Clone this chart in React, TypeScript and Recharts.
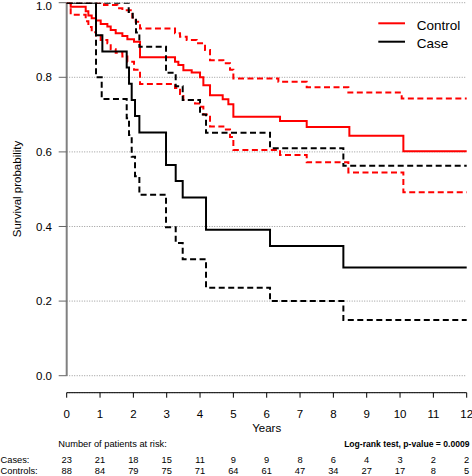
import { CartesianGrid, Line, LineChart, ReferenceLine, XAxis, YAxis } from 'recharts'

const FONT = '"Liberation Sans", Arial, Helvetica, sans-serif'
const RED = '#ff0000'

// [years, survival] steps
const controlSurv = [
  [0, 1], [0.12, 0.989], [0.57, 0.977], [0.65, 0.966], [0.75, 0.958], [0.88, 0.952],
  [1.02, 0.943], [1.22, 0.936], [1.32, 0.927], [1.47, 0.918], [1.67, 0.911], [1.82, 0.902],
  [2.02, 0.895], [2.2, 0.854], [3.25, 0.842], [3.35, 0.833], [3.5, 0.819], [3.75, 0.813],
  [4.0, 0.8], [4.1, 0.779], [4.3, 0.752], [4.68, 0.741], [4.85, 0.728], [5.0, 0.694],
  [6.4, 0.683], [7.2, 0.667], [8.48, 0.643], [10.1, 0.602], [12, 0.602],
]
const controlUpper = [
  [0, 1], [1.12, 0.994], [1.52, 0.985], [1.67, 0.98], [1.97, 0.96], [2.07, 0.949],
  [2.2, 0.931], [3.25, 0.918], [3.4, 0.909], [3.6, 0.9], [3.9, 0.891], [4.15, 0.873],
  [4.3, 0.846], [4.7, 0.838], [4.9, 0.82], [5.0, 0.797], [6.35, 0.788], [7.2, 0.773],
  [8.45, 0.759], [10.05, 0.743], [12, 0.743],
]
const controlLower = [
  [0, 1], [0.12, 0.968], [0.57, 0.95], [0.65, 0.935], [0.75, 0.921], [0.88, 0.912],
  [1.02, 0.9], [1.22, 0.891], [1.32, 0.875], [1.47, 0.866], [1.67, 0.856], [1.82, 0.842],
  [2.02, 0.82], [2.2, 0.782], [3.25, 0.771], [3.4, 0.755], [3.5, 0.739], [3.85, 0.73],
  [4.0, 0.721], [4.1, 0.7], [4.3, 0.668], [4.7, 0.66], [4.9, 0.64], [5.0, 0.605],
  [6.4, 0.592], [7.2, 0.572], [8.45, 0.545], [10.1, 0.492], [12, 0.492],
]
const caseSurv = [
  [0, 1], [0.88, 0.913], [1.07, 0.869], [1.8, 0.826], [1.87, 0.783], [1.95, 0.739],
  [2.05, 0.696], [2.18, 0.652], [2.98, 0.565], [3.27, 0.522], [3.48, 0.478],
  [4.18, 0.391], [6.1, 0.348], [8.3, 0.29], [12, 0.29],
]
const caseUpper = [
  [0, 1], [1.8, 1], [1.86, 0.975], [1.98, 0.96], [2.08, 0.92], [2.18, 0.882],
  [2.98, 0.812], [3.27, 0.776], [3.48, 0.739], [4.0, 0.7], [4.18, 0.651],
  [6.1, 0.61], [8.3, 0.563], [12, 0.563],
]
const caseLower = [
  [0, 1], [0.88, 0.8], [1.05, 0.742], [1.8, 0.69], [1.87, 0.645], [1.95, 0.587],
  [2.05, 0.535], [2.18, 0.485], [2.98, 0.398], [3.27, 0.356], [3.48, 0.312],
  [4.18, 0.236], [6.1, 0.2], [8.3, 0.149], [12, 0.149],
]

const yearTicks = [0, 1, 2, 3, 4, 5, 6, 7, 8, 9, 10, 11, 12]
const casesAtRisk = [23, 21, 18, 15, 11, 9, 9, 8, 6, 4, 3, 2, 2]
const controlsAtRisk = [88, 84, 79, 75, 71, 64, 61, 47, 34, 27, 17, 8, 5]
const probTicks = [0, 0.2, 0.4, 0.6, 0.8, 1]

const toPts = (arr: number[][]) => arr.map(([t, s]) => ({ t, s }))

// year label plus the two at-risk rows, all placed on the x scale
function YearTick(props: any) {
  const { x, y, payload, index } = props
  return (
    <g fontFamily={FONT} fill="#000">
      <text x={x} y={y + 19.8} textAnchor="middle" fontSize={11.5}>{payload.value}</text>
      <text x={x} y={y + 65} textAnchor="middle" fontSize={9.3}>{casesAtRisk[index]}</text>
      <text x={x} y={y + 76.3} textAnchor="middle" fontSize={9.3}>{controlsAtRisk[index]}</text>
    </g>
  )
}

const series = [
  { key: 'cu', data: controlUpper, color: RED, dash: '6 3.5' },
  { key: 'cl', data: controlLower, color: RED, dash: '6 3.5' },
  { key: 'cs', data: controlSurv, color: RED, dash: undefined },
  { key: 'ku', data: caseUpper, color: '#000', dash: '6 3.5' },
  { key: 'kl', data: caseLower, color: '#000', dash: '6 3.5' },
  { key: 'ks', data: caseSurv, color: '#000', dash: undefined },
]

export default function App() {
  return (
    <div style={{ position: 'absolute', left: 0, top: 0, width: 472, height: 476, background: '#fff' }}>
      <LineChart
        width={472}
        height={476}
        margin={{ top: 2.7, right: 5.3, left: 0, bottom: 53.3 }}
      >
        <CartesianGrid vertical={false} stroke="#999" strokeDasharray="1 1.5" />
        <XAxis
          type="number"
          dataKey="t"
          domain={[0, 12]}
          ticks={yearTicks}
          interval={0}
          height={30}
          tickSize={5}
          tickMargin={0}
          axisLine={{ stroke: '#000' }}
          tickLine={{ stroke: '#000' }}
          tick={<YearTick />}
        />
        <YAxis
          type="number"
          dataKey="s"
          domain={[-0.0456, 1]}
          ticks={probTicks}
          allowDataOverflow
          width={66.7}
          tickSize={8}
          tickMargin={6.7}
          axisLine={false}
          tickLine={{ stroke: '#666' }}
          tickFormatter={(v: number) => v.toFixed(1)}
          tick={{ fontSize: 11.5, fill: '#000', fontFamily: FONT }}
        />
        <ReferenceLine
          segment={[{ x: 0, y: 0 }, { x: 0, y: 1 }]}
          stroke="#808080"
          strokeWidth={2}
          ifOverflow="visible"
        />
        {series.map((s) => (
          <Line
            key={s.key}
            data={toPts(s.data)}
            dataKey="s"
            type="stepAfter"
            stroke={s.color}
            strokeWidth={2}
            strokeDasharray={s.dash}
            dot={false}
            activeDot={false}
            isAnimationActive={false}
          />
        ))}
      </LineChart>
      <svg
        width={472}
        height={476}
        style={{ position: 'absolute', left: 0, top: 0, pointerEvents: 'none' }}
        fontFamily={FONT}
      >
        <text x={21.3} y={189} fontSize={11.5} textAnchor="middle" transform="rotate(-90 21.3 189)">
          Survival probability
        </text>
        <text x={266.7} y={431.5} fontSize={11.5} textAnchor="middle">Years</text>
        <text x={58.3} y={446.7} fontSize={9.3}>Number of patients at risk:</text>
        <text x={469.5} y={446.7} fontSize={8.6} fontWeight="bold" textAnchor="end">
          Log-rank test, p-value = 0.0009
        </text>
        <text x={0.5} y={462.7} fontSize={9.3}>Cases:</text>
        <text x={0.5} y={474} fontSize={9.3}>Controls:</text>
        <line x1={378.3} x2={405} y1={23.3} y2={23.3} stroke={RED} strokeWidth={2} />
        <text x={416.7} y={30} fontSize={13.5}>Control</text>
        <line x1={378.3} x2={405} y1={41.7} y2={41.7} stroke="#000" strokeWidth={2} />
        <text x={416.7} y={48.3} fontSize={13.5}>Case</text>
      </svg>
    </div>
  )
}
